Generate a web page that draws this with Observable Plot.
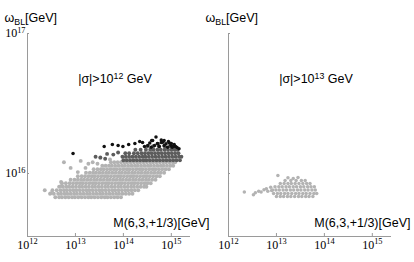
<!DOCTYPE html>
<html>
<head>
<meta charset="utf-8">
<script src="https://cdn.jsdelivr.net/npm/d3@7"></script>
<script src="https://cdn.jsdelivr.net/npm/@observablehq/plot@0.6"></script>
<style>
  html, body { margin: 0; padding: 0; background: white; }
</style>
</head>
<body>
<div id="chart"></div>
<script>
// ---- text ----
const panels = ["|σ|>10^{12} GeV", "|σ|>10^{13} GeV"];
const yLabel = "ω_{BL}[GeV]";
const xLabel = "M(6,3,+1/3)[GeV]";
const xTicks = [1e12, 1e13, 1e14, 1e15];
const yTicks = [1e16, 1e17];

// ---- data (log10 exponents) ----
// left panel, light gray cloud: rows of constant log10(ω_BL), list of log10(M)
const lightRowY = [15.830, 15.855, 15.880, 15.905, 15.930, 15.955, 15.980, 16.005, 16.030, 16.055, 16.080];
const lightRowX = [
  [12.58,12.66,12.72,12.79,12.86,12.93,12.99,13.06,13.13,13.20,13.27,13.33,13.40,13.47,13.54,13.61,13.67,13.74,13.81,13.88,13.95],
  [12.47,12.55,12.64,12.70,12.77,12.83,12.90,12.97,13.03,13.10,13.17,13.24,13.30,13.37,13.44,13.51,13.57,13.64,13.71,13.78,13.85,13.91,13.98,14.05,14.12,14.19],
  [12.36,12.52,12.61,12.69,12.76,12.82,12.89,12.96,13.02,13.09,13.16,13.23,13.29,13.36,13.43,13.50,13.56,13.63,13.70,13.77,13.83,13.90,13.97,14.04,14.10,14.17,14.24,14.31],
  [12.66,12.74,12.81,12.87,12.94,13.01,13.08,13.14,13.21,13.28,13.35,13.41,13.48,13.55,13.62,13.68,13.75,13.82,13.89,13.95,14.02,14.09,14.16,14.22,14.29,14.36,14.43,14.48],
  [12.72,12.80,12.88,12.95,13.02,13.09,13.15,13.22,13.29,13.36,13.42,13.49,13.56,13.63,13.69,13.76,13.83,13.90,13.96,14.03,14.10,14.17,14.23,14.30,14.37,14.44,14.50,14.57],
  [12.90,12.98,13.05,13.12,13.18,13.25,13.32,13.39,13.45,13.52,13.59,13.66,13.72,13.79,13.86,13.93,13.99,14.06,14.13,14.20,14.26,14.33,14.40,14.47,14.53,14.60,14.67],
  [13.05,13.13,13.20,13.27,13.34,13.40,13.47,13.54,13.61,13.67,13.74,13.81,13.88,13.94,14.01,14.08,14.15,14.21,14.28,14.35,14.42,14.48,14.55,14.62,14.69,14.76],
  [13.22,13.30,13.37,13.43,13.50,13.57,13.64,13.70,13.77,13.84,13.91,13.97,14.04,14.11,14.18,14.24,14.31,14.38,14.45,14.51,14.58,14.65,14.72,14.78,14.85],
  [13.38,13.46,13.53,13.59,13.66,13.73,13.80,13.86,13.93,14.00,14.07,14.13,14.20,14.27,14.34,14.40,14.47,14.54,14.61,14.67,14.74,14.81,14.88,14.95],
  [13.56,13.63,13.70,13.76,13.83,13.90,13.97,14.03,14.10,14.17,14.24,14.30,14.37,14.44,14.51,14.57,14.64,14.71,14.78,14.84,14.91,14.98,15.04],
  [13.74,13.81,13.88,13.95,14.02,14.08,14.15,14.22,14.29,14.35,14.42,14.49,14.56,14.62,14.69,14.76,14.83,14.89,14.96,15.03,15.08]
];
const lightExtra = [[12.76,16.08],[12.90,16.04],[13.21,16.04],[13.27,16.07],[13.36,16.08],[13.46,16.07],[12.70,15.94],[12.70,15.91],[12.49,15.86],[13.05,16.01],[13.11,16.09],[13.52,16.11],[13.72,16.10]];

// left panel, dark gray band
const darkRowY = [16.095, 16.120, 16.145, 16.170, 16.195];
const darkRowX = [
  [14.00,14.07,14.14,14.21,14.28,14.35,14.42,14.48,14.55,14.62,14.69,14.76,14.83,14.90,14.97,15.04,15.11,15.18],
  [13.98,14.05,14.12,14.19,14.26,14.33,14.40,14.46,14.53,14.60,14.67,14.74,14.81,14.88,14.95,15.02,15.09,15.16,15.21],
  [14.04,14.12,14.22,14.30,14.38,14.45,14.52,14.59,14.66,14.73,14.80,14.87,14.94,15.01,15.08,15.15],
  [14.25,14.36,14.47,14.56,14.63,14.71,14.78,14.86,14.93,15.00,15.07,15.13],
  [14.50,14.62,14.74,14.86,14.97,15.06]
];
const darkExtra = [[13.42,16.12],[13.52,16.115],[13.66,16.14],[13.79,16.135],[13.89,16.15],[13.62,16.105]];

// left panel, black points
const blackPts = [[12.95,16.143],[13.60,16.193],[13.77,16.207],[13.89,16.20],[13.99,16.193],[14.11,16.207],[14.24,16.214],[14.34,16.229],[14.40,16.221],[14.44,16.193],
  [14.51,16.20],[14.55,16.217],[14.58,16.188],[14.61,16.236],[14.65,16.20],[14.68,16.26],[14.72,16.212],[14.75,16.193],[14.79,16.24],[14.82,16.224],
  [14.85,16.20],[14.89,16.212],[14.92,16.188],[14.96,16.217],[14.99,16.20],[15.02,16.188],[15.06,16.207],[15.09,16.193],[15.16,16.176],
  [14.71,16.214],[14.85,16.236],[14.94,16.229],[15.00,16.214],[15.04,16.193],[15.12,16.186],[14.59,16.236],[14.79,16.221]];

// right panel, light gray cloud
const rightRowY = [15.835, 15.858, 15.882, 15.905, 15.928, 15.950];
const rightRowX = [
  [13.00,13.08,13.15,13.23,13.30,13.38,13.46,13.53,13.61,13.68,13.76],
  [12.94,13.02,13.09,13.17,13.24,13.32,13.40,13.47,13.55,13.62,13.70,13.78,13.84],
  [12.92,12.99,13.06,13.14,13.21,13.29,13.36,13.44,13.51,13.59,13.66,13.74,13.81],
  [12.97,13.05,13.12,13.20,13.27,13.35,13.42,13.50,13.57,13.65,13.72,13.79],
  [13.08,13.16,13.24,13.31,13.39,13.47,13.55,13.63,13.70],
  [13.18,13.30,13.41,13.52,13.60]
];
const rightExtra = [[12.33,15.867],[12.52,15.848],[12.56,15.862],[12.63,15.874],[12.68,15.867],[12.74,15.884],[12.79,15.891],[12.82,15.874],[12.88,15.902],[12.90,15.879],[13.03,15.986],[13.24,15.970],[13.35,15.965],[13.45,15.972]];

// ---- build tables ----
const rows = (ys, xs, panel) => ys.flatMap((y, i) => xs[i].map(x => ({panel, x: 10 ** x, y: 10 ** y})));
const pts = (arr, panel) => arr.map(([x, y]) => ({panel, x: 10 ** x, y: 10 ** y}));

const light = [...rows(lightRowY, lightRowX, panels[0]), ...pts(lightExtra, panels[0])];
const lightRight = [...rows(rightRowY, rightRowX, panels[1]), ...pts(rightExtra, panels[1])];
const dark = [...rows(darkRowY, darkRowX, panels[0]), ...pts(darkExtra, panels[0])];
const black = pts(blackPts, panels[0]);

const yMin = 10 ** 15.55;
const sans = "Liberation Sans, Arial, sans-serif";
const serif = "Liberation Serif, Times New Roman, serif";
const axisColor = "#9a9a9a";
const fmt = d => `10^{${Math.round(Math.log10(d))}}`;

const chart = Plot.plot({
  width: 414,
  height: 262,
  marginLeft: 26,
  marginRight: 22,
  marginTop: 33,
  marginBottom: 26,
  fx: {domain: panels, axis: null, paddingInner: 0.188, paddingOuter: 0},
  x: {type: "log", domain: [1e12, 10 ** 15.4]},
  y: {type: "log", domain: [yMin, 1e17]},
  style: {fontFamily: sans, background: "white", overflow: "visible"},
  marks: [
    Plot.ruleX([1e12], {stroke: axisColor}),
    Plot.ruleY([yMin], {stroke: axisColor}),
    Plot.tickX(xTicks, {stroke: axisColor, insetTop: 200}),
    Plot.tickY(yTicks, {stroke: axisColor, insetRight: 161}),
    Plot.axisX(xTicks, {tickSize: 0, tickPadding: 4, tickFormat: fmt, label: null, fontFamily: serif, fontSize: 12, color: "#000"}),
    Plot.axisY(yTicks, {tickSize: 0, tickPadding: 2, tickFormat: fmt, label: null, fontFamily: serif, fontSize: 12, color: "#000"}),
    Plot.dot(light, {x: "x", y: "y", fx: "panel", r: 1.95, fill: "#b3b3b3", stroke: "none"}),
    Plot.dot(lightRight, {x: "x", y: "y", fx: "panel", r: 1.75, fill: "#b3b3b3", stroke: "none"}),
    Plot.dot(dark, {x: "x", y: "y", fx: "panel", r: 1.95, fill: "#5c5c5c", stroke: "none"}),
    Plot.dot(black, {x: "x", y: "y", fx: "panel", r: 1.75, fill: "#111", stroke: "none"}),
    Plot.text([yLabel], {frameAnchor: "top-left", dx: -23, dy: -20, textAnchor: "start", fontSize: 12.5, fontFamily: sans, fill: "#000"}),
    Plot.text([xLabel], {frameAnchor: "bottom-right", dx: 19, dy: -10, textAnchor: "end", fontSize: 12.5, fontFamily: sans, fill: "#000"}),
    Plot.text(panels, {fx: d => d, text: d => d, frameAnchor: "top", dx: 6, dy: 41, fontSize: 12.5, fontFamily: sans, fill: "#000"})
  ]
});

document.getElementById("chart").appendChild(chart);

// render ^{..} and _{..} as raised / lowered tspans
function richify(root) {
  const ns = "http://www.w3.org/2000/svg";
  root.querySelectorAll("text").forEach(t => {
    const s = t.textContent;
    if (!/[\^_]\{/.test(s)) return;
    const fs = parseFloat(getComputedStyle(t).fontSize) || 12;
    t.textContent = "";
    let cur = 0;
    const add = (str, off, size) => {
      if (!str) return;
      const ts = document.createElementNS(ns, "tspan");
      if (off !== cur) ts.setAttribute("dy", (off - cur).toFixed(2));
      cur = off;
      if (size) ts.setAttribute("font-size", size);
      ts.textContent = str;
      t.appendChild(ts);
    };
    const re = /([\^_])\{([^}]*)\}/g;
    let last = 0, m;
    while ((m = re.exec(s))) {
      add(s.slice(last, m.index), 0);
      const sup = m[1] === "^";
      add(m[2], sup ? -0.38 * fs : 0.22 * fs, (0.7 * fs).toFixed(1) + "px");
      last = re.lastIndex;
    }
    add(s.slice(last), 0);
  });
}
richify(chart);
</script>
</body>
</html>
